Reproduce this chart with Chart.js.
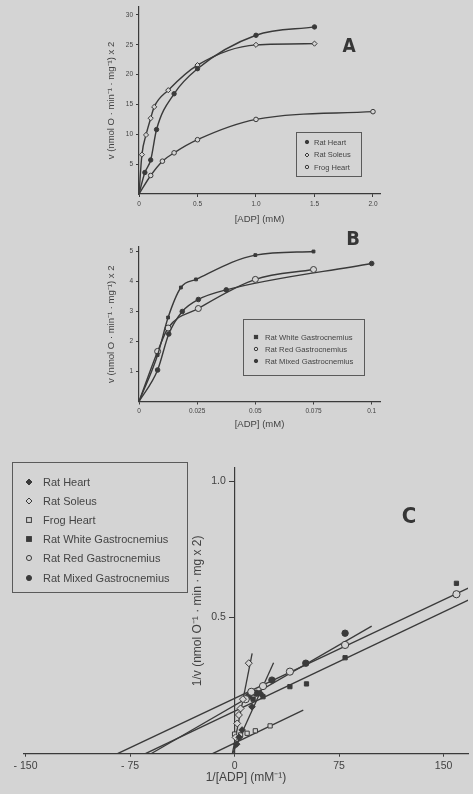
<!DOCTYPE html>
<html>
<head>
<meta charset="utf-8">
<script src="https://cdn.jsdelivr.net/npm/chart.js@4"></script>
<style>
  body { margin: 0; background: #d4d4d4; width: 473px; height: 794px; overflow: hidden; position: relative;
         font-family: "Liberation Sans", Arial, sans-serif; color: #444; }
  canvas { position: absolute; }
  .letter { position: absolute; transform: translate(-50%, -50%); font-weight: bold; color: #363636;
            font-family: "Liberation Sans Narrow", "DejaVu Sans Condensed", sans-serif; }
  .legend { position: absolute; box-sizing: border-box; border: 1px solid #5a5a5a; }
  .legend .row { display: flex; align-items: center; white-space: nowrap; }
  .legend svg { flex: none; }
</style>
</head>
<body>
<canvas id="chartA" width="300" height="230" style="left:100px;top:0"></canvas>
<canvas id="chartB" width="300" height="200" style="left:100px;top:232px"></canvas>
<canvas id="chartC" width="473" height="354" style="left:0;top:440px"></canvas>

<div class="letter" style="left:349px;top:45px;font-size:19px">A</div>
<div class="letter" style="left:353px;top:238px;font-size:20px">B</div>
<div class="letter" style="left:409px;top:515px;font-size:22px">C</div>

<div class="legend" id="legendA" style="left:296px;top:132px;width:66px;height:45px;padding:3px 0 0 7px;font-size:7.5px"></div>
<div class="legend" id="legendB" style="left:243px;top:319px;width:122px;height:57px;padding:11px 0 0 9px;font-size:7.7px"></div>
<div class="legend" id="legendC" style="left:12px;top:462px;width:176px;height:131px;padding:9px 0 0 12px;font-size:11px"></div>

<script>
// ---- panel A : v against [ADP] (mM) ----
const adpTicksA = [0, 0.5, 1.0, 1.5, 2.0];
const rateTicksA = [5, 10, 15, 20, 25, 30];
const heartAdpA = [0, 0.05, 0.1, 0.15, 0.3, 0.5, 1.0, 1.5];
const heartRateA = [0, 3.6, 5.7, 10.8, 16.8, 21.0, 26.6, 28.0];
const soleusAdpA = [0, 0.025, 0.06, 0.1, 0.13, 0.25, 0.5, 1.0, 1.5];
const soleusRateA = [0, 6.6, 9.9, 12.7, 14.6, 17.4, 21.6, 25.0, 25.2];
const frogAdpA = [0, 0.1, 0.2, 0.3, 0.5, 1.0, 2.0];
const frogRateA = [0, 3.1, 5.5, 6.9, 9.1, 12.5, 13.8];

// ---- panel B : gastrocnemius ----
const adpTicksB = [0, 0.025, 0.05, 0.075, 0.1];
const rateTicksB = [1, 2, 3, 4, 5];
const whiteAdpB = [0, 0.008, 0.0125, 0.018, 0.0245, 0.05, 0.075];
const whiteRateB = [0, 1.55, 2.8, 3.8, 4.07, 4.88, 5.0];
const redAdpB = [0, 0.008, 0.0125, 0.0255, 0.05, 0.075];
const redRateB = [0, 1.67, 2.45, 3.1, 4.07, 4.4];
const mixedAdpB = [0, 0.008, 0.0128, 0.0186, 0.0255, 0.0375, 0.1];
const mixedRateB = [0, 1.05, 2.25, 3.0, 3.4, 3.72, 4.6];

// ---- panel C : double reciprocal ----
const invAdpTicks = [-150, -75, 0, 75, 150];
const invRateTicks = [0.5, 1.0];
const heartInvAdp = [1.5, 3.3, 5.4, 12.5, 18.5];
const heartInvRate = [0.035, 0.06, 0.087, 0.172, 0.221];
const soleusInvAdp = [0.7, 1.9, 3.1, 4.3, 6, 10.2];
const soleusInvRate = [0.06, 0.111, 0.142, 0.166, 0.2, 0.332];
const frogInvAdp = [0, 4.3, 9.0, 14.9, 25.5];
const frogInvRate = [0.072, 0.069, 0.075, 0.084, 0.102];
const whiteInvAdp = [13.3, 20.4, 39.7, 51.6, 79.3, 159.2];
const whiteInvRate = [0.2, 0.209, 0.246, 0.256, 0.352, 0.625];
const redInvAdp = [8, 12, 20.4, 39.7, 79.3, 159.2];
const redInvRate = [0.2, 0.227, 0.248, 0.301, 0.399, 0.585];
const mixedInvAdp = [10, 15.6, 26.8, 51.1, 79.3];
const mixedInvRate = [0.21, 0.222, 0.27, 0.332, 0.442];
// fitted lines (end points)
const heartFitX = [-1.5, 28], heartFitY = [0, 0.334];
const soleusFitX = [-1.6, 12.6], soleusFitY = [0, 0.368];
const frogFitX = [-15.8, 49.3], frogFitY = [0, 0.16];
const whiteFitX = [-64, 175], whiteFitY = [0, 0.581];
const redFitX = [-84, 175], redFitY = [0, 0.625];
const mixedFitX = [-60, 98.4], mixedFitY = [0, 0.468];

const ink = '#3a3a3a';
const paper = '#d4d4d4';
const textColor = '#424242';

Chart.defaults.font.family = '"Liberation Sans", Arial, sans-serif';
Chart.defaults.color = textColor;

function pts(xs, ys) {
  return xs.map((x, i) => ({ x: x, y: ys[i] }));
}
function fixSize(px) {
  return (scale) => {
    if (scale.isHorizontal()) scale.height = px;
    else scale.width = px;
  };
}
function setTicks(values) {
  return (scale) => { scale.ticks = values.map((v) => ({ value: v })); };
}
function hideOrigin(r) {
  return (ctx) => (ctx.raw && ctx.raw.x === 0 ? 0 : r);
}

function curve(label, xs, ys, style, filled, r) {
  return {
    label: label, data: pts(xs, ys), showLine: true, cubicInterpolationMode: 'monotone',
    borderColor: ink, borderWidth: 1.4, backgroundColor: filled ? ink : paper,
    pointStyle: style, pointRadius: hideOrigin(r), pointBorderWidth: 1, pointBorderColor: ink
  };
}
function marks(label, xs, ys, style, filled, r) {
  return {
    label: label, data: pts(xs, ys), showLine: false,
    backgroundColor: filled ? ink : paper, borderColor: ink,
    pointStyle: style, pointRadius: r, pointBorderWidth: 1
  };
}
function fit(xs, ys) {
  return { data: pts(xs, ys), showLine: true, fit: true, order: 1, borderColor: ink, borderWidth: 1.3, pointRadius: 0 };
}

function axis(opts) {
  return Object.assign({
    type: 'linear',
    grid: { drawOnChartArea: false, drawTicks: true, tickLength: 3, tickColor: ink, color: ink },
    border: { color: ink, width: 1.2 },
    ticks: { autoSkip: false, maxRotation: 0, padding: 3, font: { size: 6.5 } }
  }, opts);
}

const baseOptions = (padding) => ({
  responsive: false,
  animation: false,
  layout: { padding: padding },
  plugins: { legend: { display: false }, tooltip: { enabled: false } }
});

// ---- chart A ----
const chartA = new Chart(document.getElementById('chartA'), {
  type: 'scatter',
  data: {
    datasets: [
      curve('Rat Heart', heartAdpA, heartRateA, 'circle', true, 2.2),
      curve('Rat Soleus', soleusAdpA, soleusRateA, 'rectRot', false, 2.6),
      curve('Frog Heart', frogAdpA, frogRateA, 'circle', false, 2.3)
    ]
  },
  options: Object.assign(baseOptions({ left: 0, top: 7, right: 20, bottom: 0 }), {
    scales: {
      x: axis({
        min: 0, max: 2.06, afterBuildTicks: setTicks(adpTicksA), afterFit: fixSize(36),
        ticks: { autoSkip: false, maxRotation: 0, padding: 3, font: { size: 6.5 },
                 callback: (v) => (v === 0 ? '0' : v.toFixed(1)) },
        title: { display: true, text: '[ADP] (mM)', font: { size: 9.5 }, padding: { top: 0, bottom: 5 } }
      }),
      y: axis({
        min: 0, max: 31.34, afterBuildTicks: setTicks(rateTicksA), afterFit: fixSize(39),
        title: { display: true, text: 'v (nmol O · min⁻¹ · mg⁻¹) x 2', font: { size: 9.5 }, padding: { top: 6, bottom: 0 } }
      })
    }
  })
});

// ---- chart B ----
const chartB = new Chart(document.getElementById('chartB'), {
  type: 'scatter',
  data: {
    datasets: [
      curve('Rat White Gastrocnemius', whiteAdpB, whiteRateB, 'rect', true, 2),
      curve('Rat Red Gastrocnemius', redAdpB, redRateB, 'circle', false, 3),
      curve('Rat Mixed Gastrocnemius', mixedAdpB, mixedRateB, 'circle', true, 2.3)
    ]
  },
  options: Object.assign(baseOptions({ left: 0, top: 15, right: 20, bottom: 0 }), {
    scales: {
      x: axis({
        min: 0, max: 0.10357, afterBuildTicks: setTicks(adpTicksB), afterFit: fixSize(30.5),
        ticks: { autoSkip: false, maxRotation: 0, padding: 3, font: { size: 6.5 }, callback: (v) => String(v) },
        title: { display: true, text: '[ADP] (mM)', font: { size: 9.5 }, padding: { top: 0, bottom: 2 } }
      }),
      y: axis({
        min: 0, max: 5.15, afterBuildTicks: setTicks(rateTicksB), afterFit: fixSize(39),
        title: { display: true, text: 'v (nmol O · min⁻¹ · mg⁻¹) x 2', font: { size: 9.5 }, padding: { top: 6, bottom: 0 } }
      })
    }
  })
});

// ---- chart C ----
const sideTitle = {
  id: 'sideTitle',
  afterDraw(chart, args, opts) {
    const { ctx, chartArea, scales } = chart;
    ctx.save();
    ctx.translate(scales.x.getPixelForValue(0) - opts.offset, (chartArea.top + chartArea.bottom) / 2);
    ctx.rotate(-Math.PI / 2);
    ctx.font = opts.size + 'px "Liberation Sans", Arial, sans-serif';
    ctx.fillStyle = textColor;
    ctx.textAlign = 'center';
    ctx.textBaseline = 'middle';
    ctx.fillText(opts.text, 0, 0);
    ctx.restore();
  }
};

const chartC = new Chart(document.getElementById('chartC'), {
  type: 'scatter',
  data: {
    datasets: [
      marks('Rat Heart', heartInvAdp, heartInvRate, 'rectRot', true, 3.3),
      marks('Rat Soleus', soleusInvAdp, soleusInvRate, 'rectRot', false, 3.5),
      marks('Frog Heart', frogInvAdp, frogInvRate, 'rect', false, 3),
      marks('Rat White Gastrocnemius', whiteInvAdp, whiteInvRate, 'rect', true, 3),
      marks('Rat Red Gastrocnemius', redInvAdp, redInvRate, 'circle', false, 3.6),
      marks('Rat Mixed Gastrocnemius', mixedInvAdp, mixedInvRate, 'circle', true, 3.2),
      fit(heartFitX, heartFitY),
      fit(soleusFitX, soleusFitY),
      fit(frogFitX, frogFitY),
      fit(whiteFitX, whiteFitY),
      fit(redFitX, redFitY),
      fit(mixedFitX, mixedFitY)
    ]
  },
  options: Object.assign(baseOptions({ left: 24, top: 28, right: 0, bottom: 0 }), {
    plugins: {
      legend: { display: false }, tooltip: { enabled: false },
      sideTitle: { text: '1/v (nmol O⁻¹ · min · mg x 2)', offset: 37, size: 12 }
    },
    scales: {
      x: axis({
        min: -151.1, max: 167.5, afterBuildTicks: setTicks(invAdpTicks), afterFit: fixSize(40.3),
        ticks: { autoSkip: false, maxRotation: 0, padding: 3, font: { size: 10.5 },
                 callback: (v) => (v < 0 ? '- ' + Math.abs(v) : String(v)) },
        title: { display: true, text: '1/[ADP] (mM⁻¹)', font: { size: 12 }, padding: { top: 0, bottom: 9 } }
      }),
      y: axis({
        position: { x: 0 }, min: 0, max: 1.048, afterBuildTicks: setTicks(invRateTicks),
        grid: { drawOnChartArea: false, drawTicks: true, tickLength: 5, tickColor: ink, color: ink },
        ticks: { autoSkip: false, padding: 3, font: { size: 10.5 }, callback: (v) => v.toFixed(1) + '   ' }
      })
    }
  }),
  plugins: [sideTitle]
});

// ---- HTML legends built from the datasets ----
function markerSvg(ds, size) {
  const c = size / 2, r = size / 2 - 1;
  const fill = ds.backgroundColor;
  let shape;
  if (ds.pointStyle === 'rect') {
    const h = r * 0.8;
    shape = `<rect x="${c - h}" y="${c - h}" width="${2 * h}" height="${2 * h}"/>`;
  } else if (ds.pointStyle === 'rectRot') {
    shape = `<polygon points="${c},${c - r} ${c + r},${c} ${c},${c + r} ${c - r},${c}"/>`;
  } else {
    shape = `<circle cx="${c}" cy="${c}" r="${r * 0.85}"/>`;
  }
  return `<svg width="${size}" height="${size}"><g fill="${fill}" stroke="${ink}" stroke-width="1">${shape}</g></svg>`;
}

function buildLegend(chart, id, rowHeight, markerSize, gap) {
  const box = document.getElementById(id);
  chart.data.datasets.filter((ds) => !ds.fit).forEach((ds) => {
    const row = document.createElement('div');
    row.className = 'row';
    row.style.height = rowHeight + 'px';
    row.innerHTML = markerSvg(ds, markerSize) + `<span style="margin-left:${gap}px">${ds.label}</span>`;
    box.append(row);
  });
}

buildLegend(chartA, 'legendA', 12.5, 6, 4);
buildLegend(chartB, 'legendB', 12.2, 6, 6);
buildLegend(chartC, 'legendC', 19.2, 8, 10);
</script>
</body>
</html>
